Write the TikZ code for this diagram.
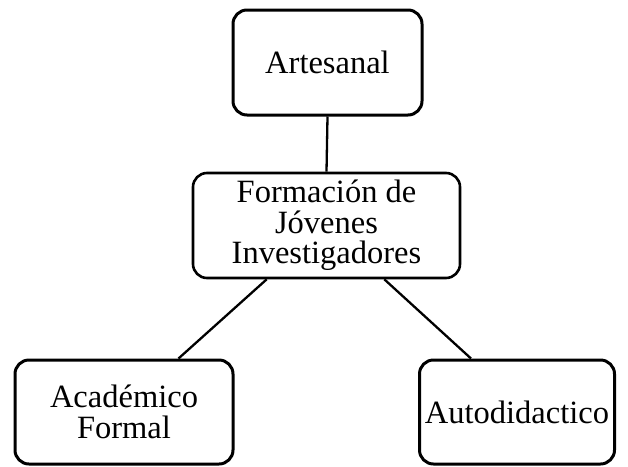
\documentclass[tikz,border=0pt]{standalone}
\usepackage{fontspec}
\setmainfont{Liberation Serif}
\usetikzlibrary{calc}
\begin{document}
\begin{tikzpicture}[x=1pt,y=-1pt,
  box/.style={draw=black,line width=3pt,rounded corners=14pt,align=center,inner sep=0pt,
    font=\fontsize{32.5}{30.5}\selectfont},
  link/.style={draw=black,line width=2.3pt}]
\useasboundingbox (0,0) rectangle (628,466);
\node[box,minimum width=189pt,minimum height=105pt] (art) at (327.5,62.5) {Artesanal};
\node[box,line width=2.6pt,minimum width=267pt,minimum height=105pt] (mid) at (326.5,225.5) {Formación de\\Jóvenes\\Investigadores};
\node[box,minimum width=218pt,minimum height=104pt] (aca) at (124,412) {Académico\\Formal};
\node[box,minimum width=195pt,minimum height=104pt] (aut) at (517,412) {Autodidactico};
\draw[link] (art.south) -- (mid.north);
\draw[link] ([xshift=75pt]mid.south west) -- ([xshift=165pt]aca.north west);
\draw[link] ([xshift=-77pt]mid.south east) -- ([xshift=53pt]aut.north west);
\end{tikzpicture}
\end{document}
